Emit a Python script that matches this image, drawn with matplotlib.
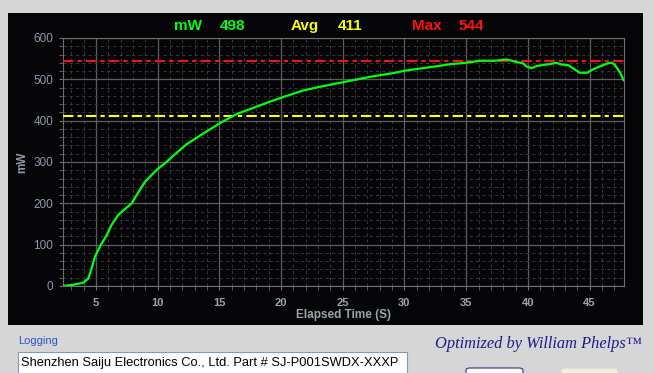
import matplotlib
matplotlib.use("Agg")
from matplotlib import pyplot as plt
from matplotlib.patches import Rectangle, FancyBboxPatch
from matplotlib.ticker import MultipleLocator

plt.rcParams['font.family'] = ['Liberation Sans', 'DejaVu Sans']

# power log (elapsed seconds, mW)
elapsed = [2.35, 3.16, 3.97, 4.38, 4.65, 4.92, 5.32, 5.87, 6.27, 6.81, 7.35,
           7.9, 8.3, 8.97, 9.92, 10.6, 11.26, 12.35, 13.7, 15.05, 16.4,
           17.75, 19.1, 20.45, 21.8, 23.15, 24.5, 25.85, 27.2, 28.0, 29.1,
           30.04, 31.5, 32.7, 33.8, 35.0, 36.1, 37.3, 38.3, 38.7, 39.2,
           39.6, 39.9, 40.3, 40.7, 41.25, 41.8, 42.3, 42.7, 43.3, 43.8,
           44.2, 44.8, 45.2, 45.8, 46.5, 46.8, 47.05, 47.5, 47.75]
power = [0, 3, 8, 18, 43, 71, 95, 123, 148, 172, 186,
         200, 220, 252, 281, 297, 315, 343, 369, 394, 416,
         431, 446, 460, 473, 482, 490, 498, 506, 510, 515,
         521, 527, 532, 537, 540, 545, 545, 548, 545, 541,
         539, 531, 527, 532, 535, 537, 540, 536, 534, 524,
         516, 516, 523, 531, 539, 540, 535, 515, 498]

current = 498
avg = 411
peak = 544

W, H = 654, 373


def fx(px):
    return px / W


def fy(py):
    return 1 - py / H


fig = plt.figure(figsize=(W / 100, H / 100), dpi=100, facecolor='#d6d6d6')

# black panel behind the chart
fig.patches.append(Rectangle((fx(8), fy(325)), (643 - 8) / W, (325 - 13) / H,
                             transform=fig.transFigure, facecolor='#050507',
                             edgecolor='none', zorder=-5))

ax = fig.add_axes([fx(63), fy(286), (624 - 63) / W, (286 - 38) / H])
ax.set_facecolor('#050507')
ax.set_zorder(2)

ax.plot(elapsed, power, color='#00ff10', lw=1.6, zorder=5)
ax.hlines(peak, elapsed[0], elapsed[-1], color='#ff1010', lw=1.5,
          linestyles=(0, (5, 2, 2, 2)), zorder=4)
ax.hlines(avg, elapsed[0], elapsed[-1], color='#ffff00', lw=1.5,
          linestyles=(0, (5, 2, 2, 2)), zorder=4)

ax.set_xlim(2.33, 47.79)
ax.set_ylim(0, 600)
ax.xaxis.set_major_locator(MultipleLocator(5))
ax.xaxis.set_minor_locator(MultipleLocator(1))
ax.yaxis.set_major_locator(MultipleLocator(100))
ax.yaxis.set_minor_locator(MultipleLocator(20))

ax.grid(which='major', color='#5e5e5e', lw=0.9, ls='-')
ax.grid(which='minor', color='#363636', lw=0.75, ls=(0, (3, 3)))
ax.set_axisbelow(True)

for s in ax.spines.values():
    s.set_color('#6e6e6e')
ax.tick_params(which='both', direction='out', length=3, color='#707070')
ax.tick_params(axis='y', labelsize=8.5, labelcolor='#8c9aa8', pad=4)
ax.tick_params(axis='x', labelsize=8, labelcolor='#9aa4ae', pad=6)
for t in ax.get_xticklabels():
    t.set_fontweight('bold')

ax.set_xlabel('Elapsed Time (S)', color='#9aa4ae', fontsize=8.5, fontweight='bold')
ax.xaxis.label.set_va('center')
ax.xaxis.set_label_coords(0.5, (286 - 315) / 248)
ax.set_ylabel('mW', color='#8c9aa8', fontsize=8.5, fontweight='bold')
ax.yaxis.label.set_va('center')
ax.yaxis.set_label_coords((22 - 63) / 561, 0.5)

# header readouts
hdr = [('mW', 188, '#00ff10'), (str(current), 233, '#00ff10'),
       ('Avg', 305, '#ffff00'), (str(avg), 350, '#ffff00'),
       ('Max', 427, '#ff1010'), (str(peak), 471, '#ff1010')]
for txt, px, c in hdr:
    fig.text(fx(px), fy(26), txt, color=c, fontsize=11, fontweight='bold',
             ha='center', va='center')

# lower panel
fig.text(fx(18), fy(341), 'Logging', color='#2a55d0', fontsize=8,
         ha='left', va='center')
fig.patches.append(Rectangle((fx(18), fy(374)), (407 - 18) / W, (374 - 352) / H,
                             transform=fig.transFigure, facecolor='white',
                             edgecolor='#7f9db9', lw=0.8))
fig.text(fx(21), fy(363), 'Shenzhen Saiju Electronics Co., Ltd. Part # SJ-P001SWDX-XXXP',
         color='black', fontsize=9.3, ha='left', va='center')
fig.text(fx(538), fy(344), 'Optimized by William Phelps\u2122', color='#1c1c8c',
         fontsize=11.8, family='Liberation Serif', style='italic',
         ha='center', va='center')

fig.patches.append(FancyBboxPatch((fx(466), fy(380)), (523 - 466) / W, (380 - 368) / H,
                                  boxstyle='round,pad=0,rounding_size=0.006',
                                  transform=fig.transFigure, facecolor='white',
                                  edgecolor='#1c3c78', lw=0.8))
fig.patches.append(FancyBboxPatch((fx(561), fy(380)), (618 - 561) / W, (380 - 368) / H,
                                  boxstyle='round,pad=0,rounding_size=0.006',
                                  transform=fig.transFigure, facecolor='#f2efe4',
                                  edgecolor='#d8d4c8', lw=0.8))

fig.savefig('out.png', dpi=100, facecolor=fig.get_facecolor())
